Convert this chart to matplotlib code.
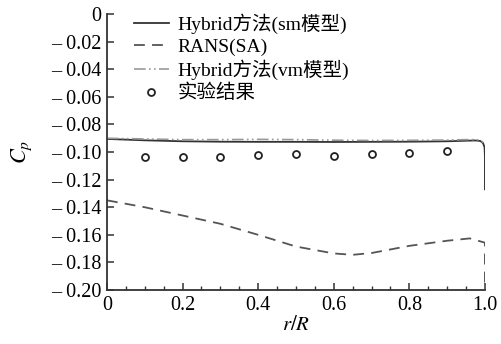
import numpy as np
import matplotlib
matplotlib.use("Agg")
import matplotlib.pyplot as plt
from matplotlib.ticker import MultipleLocator

plt.rcParams['font.family'] = ['Liberation Serif', 'Noto Sans CJK SC']
plt.rcParams['mathtext.fontset'] = 'stix'

# Hybrid (sm model)
r_sm = [0, 0.1, 0.2, 0.3, 0.4, 0.5, 0.6, 0.7, 0.8, 0.9, 0.95, 0.975, 0.988, 0.995, 0.999, 1.0, 1.0]
cp_sm = [-0.0905, -0.0915, -0.0922, -0.0925, -0.0926, -0.0926, -0.0927, -0.0926, -0.0925, -0.0922,
         -0.0918, -0.0916, -0.0920, -0.0935, -0.0965, -0.103, -0.127]
# Hybrid (vm model)
r_vm = [0, 0.1, 0.2, 0.3, 0.4, 0.5, 0.6, 0.7, 0.8, 0.9, 0.95, 0.975, 0.988, 0.995]
cp_vm = [-0.0900, -0.0905, -0.0910, -0.0910, -0.0908, -0.0910, -0.0914, -0.0916, -0.0915, -0.0913,
         -0.0910, -0.0910, -0.0915, -0.0930]
# RANS (SA)
r_rans = [0, 0.1, 0.2, 0.3, 0.4, 0.5, 0.6, 0.65, 0.7, 0.8, 0.9, 0.96, 1.0, 1.0]
cp_rans = [-0.135, -0.140, -0.146, -0.152, -0.160, -0.1685, -0.1735, -0.1745, -0.1732, -0.168,
           -0.1643, -0.1626, -0.1657, -0.197]
# experiment
r_exp = [0.1, 0.2, 0.3, 0.4, 0.5, 0.6, 0.7, 0.8, 0.9]
cp_exp = [-0.1036, -0.1034, -0.1036, -0.1022, -0.1017, -0.1029, -0.1014, -0.1005, -0.0993]

fig = plt.figure(figsize=(5.02, 3.44), dpi=100)
ax = fig.add_axes([0.213, 0.157, 0.753, 0.802])

ax.plot(r_sm, cp_sm, color='#333333', lw=1.3, label='Hybrid方法(sm模型)')
ax.plot(r_rans, cp_rans, color='#555555', lw=1.3, ls=(0, (6, 4)), label='RANS(SA)')
ax.plot(r_vm, cp_vm, color='#999999', lw=1.2, ls=(0, (7, 2, 1, 2, 1, 2)), label='Hybrid方法(vm模型)')
ax.plot(r_exp, cp_exp, 'o', ms=5, mfc='white', mec='#222222', mew=1.3, label='实验结果')

ax.set_xlim(0, 1.0)
ax.set_ylim(-0.20, 0)
ax.spines['top'].set_visible(False)
ax.spines['right'].set_visible(False)
for s in ['left', 'bottom']:
    ax.spines[s].set_linewidth(1.3)
    ax.spines[s].set_color('#333333')

xt = [0, 0.2, 0.4, 0.6, 0.8, 1.0]
ax.set_xticks(xt)
ax.set_xticklabels(['0', '0.2', '0.4', '0.6', '0.8', '1.0'])
ax.xaxis.set_minor_locator(MultipleLocator(0.05))
yt = np.round(np.arange(0, -0.201, -0.02), 2)
ax.set_yticks(yt)
ax.set_yticklabels(['0'] + ['\u2013 %.2f' % abs(v) for v in yt[1:]])
ax.tick_params(axis='both', which='major', direction='in', length=5, width=1.1,
               labelsize=14.5, color='#333333', pad=4)
ax.tick_params(axis='x', which='minor', direction='in', length=3, width=1.0, color='#333333')

ax.set_xlabel('$r/R$', fontsize=15, labelpad=1)
ax.set_ylabel('$C_p$', fontsize=16, labelpad=12)

ax.legend(loc='upper left', frameon=False, fontsize=14, handlelength=1.8, handletextpad=0.45,
          borderaxespad=0.0, labelspacing=0.2, bbox_to_anchor=(0.05, 1.03))

fig.savefig('out.png', dpi=100)
